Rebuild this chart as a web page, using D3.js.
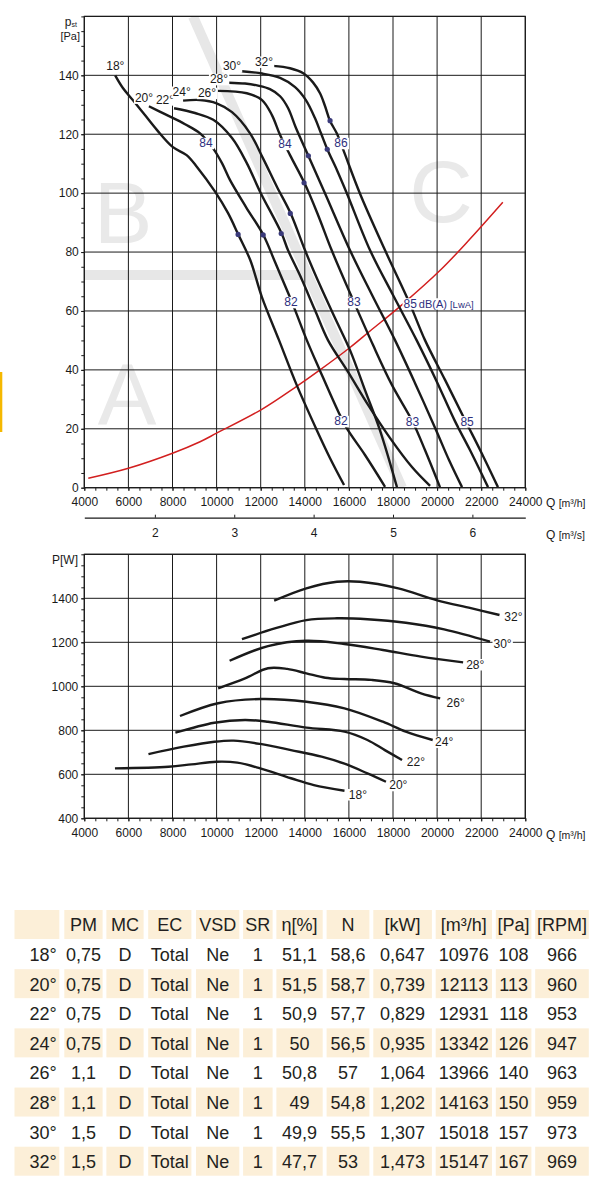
<!DOCTYPE html>
<html><head><meta charset="utf-8">
<script src="https://cdn.jsdelivr.net/npm/d3@7"></script>
<style>
body{margin:0;background:#fff;}
svg{display:block;font-family:"Liberation Sans",Arial,sans-serif;}
</style></head><body>
<svg id="c" width="602" height="1186"></svg>
<script>
// ---------- DATA ----------
const angles = ["18°","20°","22°","24°","26°","28°","30°","32°"];
// static pressure curves [Q m3/h, p Pa]
const pst18 = [[5400,140],[5750,135.7],[6200,131.6],[6750,126.5],[7300,121.4],[8020,115.6],[8640,112.9],[9110,108.9],[9930,100.5],[10520,93.2],[10980,86.0],[11530,77.2],[12050,64.8],[12830,50.1],[13630,34.9],[14540,19.6],[15140,10.1],[15780,0.9]];
const pst20 = [[6930,129.5],[7660,126.8],[8570,123.4],[9250,120.3],[9840,115.2],[10250,110.1],[10610,104.4],[11340,95.2],[12120,85.8],[12650,76.6],[13250,66.0],[13560,60.3],[14090,50.1],[14680,39.9],[15520,25.8],[15900,20.2],[16730,11.1],[17640,0.3]];
const pst22 = [[8070,128.8],[9020,127.2],[9850,124.9],[10700,118.7],[11370,110.2],[11970,100.5],[12950,86.3],[13240,80.6],[13780,72.1],[14460,60.3],[15050,50.1],[15960,39.3],[16870,28.1],[17860,16.9],[18860,7.0],[19680,0.6]];
const pst24 = [[8480,131.4],[9250,131.6],[10000,130.5],[10700,127.5],[11510,120.4],[12100,111.9],[12740,102.1],[13360,93.1],[14010,80.6],[14690,68.7],[15370,57.6],[16050,46.7],[16730,33.1],[17410,19.5],[18180,0.2]];
const pst26 = [[10060,134.7],[11370,133.9],[12060,131.6],[12510,126.5],[12880,119.7],[13330,112.9],[13980,103.5],[14600,92.6],[15220,80.6],[16230,63.0],[17090,48.5],[17950,34.9],[18890,22.4],[19450,12.8],[20130,0.2]];
const pst28 = [[10560,137.5],[11290,137.2],[11880,136.5],[12420,135.3],[12880,132.9],[13240,128.9],[13600,122.1],[14160,112.7],[14920,99.9],[16050,80.6],[17050,65.4],[18090,50.1],[19000,35.5],[19950,19.6],[20540,9.4],[21130,0.2]];
const pst30 = [[11140,141.4],[12060,140.6],[12880,139.1],[13560,136.0],[14050,131.6],[14460,125.5],[14730,120.4],[15020,114.9],[15460,107.8],[15910,99.9],[16960,80.6],[18000,65.4],[19070,50.1],[19950,36.6],[20810,22.6],[21490,12.8],[22310,0.2]];
const pst32 = [[12560,143.2],[13330,142.4],[13930,140.7],[14370,137.6],[14690,133.9],[14920,129.5],[15140,124.6],[15450,120.3],[15750,114.6],[16500,99.9],[17640,80.6],[18730,63.0],[19450,50.1],[20360,36.6],[21310,22.3],[21950,12.8],[22760,0.2]];
const systemCurve = [[4180,3.2],[6000,6.6],[8000,11.7],[9250,15.6],[10000,18.5],[12050,26.6],[13630,34.4],[14690,40.0],[16050,47.6],[16960,53.2],[18390,62.0],[20140,73.8],[21500,84.5],[22980,96.9]];
// operating points
const opQ = [10976,12113,12931,13342,13966,14163,15018,15147];
const opP = [86.0,85.8,86.3,93.1,103.5,112.7,114.9,124.6];
// noise labels along curves
const noiseText = ["84","84","86","82","83","85","82","83","85"];
const noiseQ = [9520,13100,15640,13370,16230,18770,15640,18880,21360];
const noiseP = [117.0,116.7,117.0,63.0,63.0,63.0,22.6,22.5,22.5];
// angle label anchors (top chart)
const angLabQ = [5406,6707,7660,8417,9564,10109,10698,12149];
const angLabP = [143.1,132.4,131.8,134.4,134.0,138.7,143.1,144.6];
// power curves [Q m3/h, P W]
const pw18 = [[5390,627],[7820,634.5],[8860,645],[9990,657],[10940,653],[11980,627],[13370,582],[14410,551],[15800,525.5]];
const pw20 = [[6910,692],[8510,725.5],[9900,748],[10770,753],[11980,738],[13370,710],[14760,680],[15800,648],[16840,604],[17680,566]];
const pw22 = [[8130,789],[9900,834.5],[11290,847],[12330,839],[14070,812],[15800,794],[16840,756],[17630,710],[18410,665]];
const pw24 = [[8340,865],[10070,923],[11980,942],[14070,930],[15800,900],[17540,839],[18580,794],[19800,756]];
const pw26 = [[10070,991],[11290,1036],[12330,1082],[13200,1079],[14070,1059],[14930,1039],[15800,1033],[17020,1029],[18060,1014],[19270,968],[20140,945]];
const pw28 = [[10590,1116],[12330,1183],[14070,1207],[15800,1192],[17540,1165],[19270,1135],[21180,1109]];
const pw30 = [[11150,1214],[12680,1264],[14070,1301],[15460,1309],[16840,1305],[18580,1289],[20320,1259],[22400,1203]];
const pw32 = [[12610,1389],[14070,1445],[15460,1475],[16500,1475],[18240,1445],[19970,1392],[21530,1355],[22830,1324]];
const pwLabQ = [16410,18240,19040,20320,20840,21730,22970,23460];
const pwLabP = [509,551,657,748,924,1100,1193,1316];
// axis ticks
const qTicks = [4000,6000,8000,10000,12000,14000,16000,18000,20000,22000,24000];
const pTicks = [0,20,40,60,80,100,120,140];
const qsTicks = [2,3,4,5,6];
const wTicks = [400,600,800,1000,1200,1400];
// zone letters (annotation)
const zoneText = ["B","A","C"];
const zoneQ = [5755,5940,20176];
const zoneP = [83.1,21.3,90.2];
// table
const tHead = ["","PM","MC","EC","VSD","SR","η[%]","N","[kW]","[m³/h]","[Pa]","[RPM]"];
const tAngle = ["18°","20°","22°","24°","26°","28°","30°","32°"];
const tPM = ["0,75","0,75","0,75","0,75","1,1","1,1","1,5","1,5"];
const tMC = ["D","D","D","D","D","D","D","D"];
const tEC = ["Total","Total","Total","Total","Total","Total","Total","Total"];
const tVSD = ["Ne","Ne","Ne","Ne","Ne","Ne","Ne","Ne"];
const tSR = ["1","1","1","1","1","1","1","1"];
const tEta = ["51,1","51,5","50,9","50","50,8","49","49,9","47,7"];
const tN = ["58,6","58,7","57,7","56,5","57","54,8","55,5","53"];
const tKW = ["0,647","0,739","0,829","0,935","1,064","1,202","1,307","1,473"];
const tQ = ["10976","12113","12931","13342","13966","14163","15018","15147"];
const tPa = ["108","113","118","126","140","150","157","167"];
const tRPM = ["966","960","953","947","963","959","973","969"];

// ---------- LAYOUT ----------
const svg = d3.select("#c");
const INK = "#1a1a1a", NAVY = "#2e2f7e";
const fmtInt = d3.format("d");
const x = d3.scaleLinear().domain([4000,24000]).range([84.3,525.3]);
const y1 = d3.scaleLinear().domain([0,160]).range([487.7,16.4]);
const y2 = d3.scaleLinear().domain([400,1600]).range([818.3,554.3]);
const qs = d3.scaleLinear().domain([4000/3600,24000/3600]).range([84.3,525.3]);

// yellow marker
svg.append("rect").attr("x",0).attr("y",372).attr("width",2.3).attr("height",60).attr("fill","#f5b800");

function styleAxis(g, size){
  g.select(".domain").remove();
  g.selectAll("line").attr("stroke",INK);
  g.selectAll("text").attr("font-size",size).attr("fill",INK).attr("font-family","Liberation Sans, Arial, sans-serif");
}

function bgLabel(g, px, py, txt, color, size){
  const t = g.append("text").attr("x",px).attr("y",py).attr("dy","0.35em")
    .attr("text-anchor","middle").attr("font-size",size).attr("fill",color).text(txt);
  const b = t.node().getBBox();
  g.insert("rect","text:last-child").attr("x",b.x-1).attr("y",b.y+1.5).attr("width",b.width+2).attr("height",b.height-2.5).attr("fill","#fff");
  return t;
}

// ---------- TOP CHART ----------
const topG = svg.append("g");
topG.append("clipPath").attr("id","clip1").append("rect")
  .attr("x",x(4000)).attr("y",y1(160)).attr("width",x(24000)-x(4000)).attr("height",y1(0)-y1(160));
const deco = topG.append("g").attr("clip-path","url(#clip1)");
deco.selectAll("text.zone").data(zoneText).join("text").attr("class","zone")
  .attr("x",(d,i)=>x(zoneQ[i])).attr("y",(d,i)=>y1(zoneP[i]))
  .attr("text-anchor","middle").attr("font-size",88).attr("fill","#e9e9e9").text(d=>d);
deco.append("line").attr("x1",x(8930)).attr("y1",y1(160)).attr("x2",x(18408)).attr("y2",y1(0))
  .attr("stroke","#e7e7e7").attr("stroke-width",10);
deco.append("line").attr("x1",x(4000)).attr("y1",y1(72.2)).attr("x2",x(14000)).attr("y2",y1(72.2))
  .attr("stroke","#e7e7e7").attr("stroke-width",10);

// grid
topG.selectAll("line.gv").data(qTicks).join("line").attr("class","gv")
  .attr("x1",d=>x(d)).attr("x2",d=>x(d)).attr("y1",y1(0)).attr("y2",y1(160)).attr("stroke",INK).attr("stroke-width",1);
topG.selectAll("line.gh").data(pTicks.concat([160])).join("line").attr("class","gh")
  .attr("y1",d=>y1(d)).attr("y2",d=>y1(d)).attr("x1",x(4000)).attr("x2",x(24000)).attr("stroke",INK).attr("stroke-width",1);

// axes
topG.append("g").attr("transform",`translate(0,${y1(0)})`)
  .call(d3.axisBottom(x).tickValues(d3.range(4000,24001,500)).tickSize(3).tickFormat(""))
  .call(g=>styleAxis(g,12));
topG.append("g").attr("transform",`translate(0,${y1(0)})`)
  .call(d3.axisBottom(x).tickValues(qTicks).tickSize(3).tickPadding(7).tickFormat(fmtInt))
  .call(g=>styleAxis(g,12));
topG.append("g").attr("transform",`translate(${x(4000)},0)`)
  .call(d3.axisLeft(y1).tickValues(d3.range(0,161,5)).tickSize(3).tickFormat(""))
  .call(g=>styleAxis(g,12));
topG.append("g").attr("transform",`translate(${x(4000)},0)`)
  .call(d3.axisLeft(y1).tickValues(pTicks).tickSize(3).tickPadding(2.5).tickFormat(fmtInt))
  .call(g=>styleAxis(g,12));
// second axis m3/s
const ax2 = topG.append("g").attr("transform","translate(0,517.7)")
  .call(d3.axisBottom(qs).tickValues(qsTicks).tickSizeInner(-3).tickSizeOuter(0).tickPadding(11).tickFormat(fmtInt));
ax2.select(".domain").attr("stroke",INK).attr("stroke-width",1.2);
ax2.selectAll("line").attr("stroke",INK);
ax2.selectAll("text").attr("font-size",12).attr("fill",INK).attr("font-family","Liberation Sans, Arial, sans-serif");

// frame
topG.append("rect").attr("x",x(4000)).attr("y",y1(160)).attr("width",x(24000)-x(4000)).attr("height",y1(0)-y1(160))
  .attr("fill","none").attr("stroke",INK).attr("stroke-width",1.2);

// axis titles
const pl = topG.append("text").attr("x",77).attr("y",25.5).attr("text-anchor","end").attr("font-size",12).attr("fill",INK);
pl.append("tspan").text("p");
pl.append("tspan").attr("font-size",7).attr("dy",1.2).text("st");
topG.append("text").attr("x",80).attr("y",39.5).attr("text-anchor","end").attr("font-size",11).attr("fill",INK).text("[Pa]");
function unitLabel(g, px, py, unit){
  const t = g.append("text").attr("x",px).attr("y",py).attr("dy","0.35em").attr("fill",INK);
  t.append("tspan").attr("font-size",12).text("Q ");
  t.append("tspan").attr("font-size",10.5).text(unit);
}
unitLabel(topG,546,501.7,"[m³/h]");
unitLabel(topG,546,533,"[m³/s]");

// system curve
const line1 = d3.line().x(d=>x(d[0])).y(d=>y1(d[1])).curve(d3.curveCatmullRom.alpha(0.5));
topG.append("path").datum(systemCurve).attr("d",line1).attr("fill","none").attr("stroke","#d21f1f").attr("stroke-width",1.5);

// fan curves
const pstCurves = [pst18,pst20,pst22,pst24,pst26,pst28,pst30,pst32];
topG.selectAll("path.pst").data(pstCurves).join("path").attr("class","pst")
  .attr("d",line1).attr("fill","none").attr("stroke",INK).attr("stroke-width",2.4).attr("stroke-linecap","butt");

// operating points
topG.selectAll("circle.op").data(opQ).join("circle").attr("class","op")
  .attr("cx",d=>x(d)).attr("cy",(d,i)=>y1(opP[i])).attr("r",2.6).attr("fill","#3a3a7a");

// noise labels
const nl = topG.append("g");
noiseText.forEach((t,i)=>{
  if(i===5){
    const px = x(noiseQ[i]), py = y1(noiseP[i]);
    const tx = nl.append("text").attr("x",px-6.5).attr("y",py).attr("dy","0.35em").attr("fill",NAVY);
    tx.append("tspan").attr("font-size",12).text(t);
    tx.append("tspan").attr("font-size",11).attr("dx",2).text("dB(A)");
    tx.append("tspan").attr("font-size",9.5).attr("dx",3).text("[LwA]");
    const b = tx.node().getBBox();
    nl.insert("rect","text:last-child").attr("x",b.x-1).attr("y",b.y+1.5).attr("width",b.width+2).attr("height",b.height-2.5).attr("fill","#fff");
  } else {
    bgLabel(nl, x(noiseQ[i]), y1(noiseP[i]), t, NAVY, 12);
  }
});
// angle labels
const al = topG.append("g");
angles.forEach((a,i)=>bgLabel(al, x(angLabQ[i]), y1(angLabP[i]), a, INK, 12));

// ---------- BOTTOM CHART ----------
const bot = svg.append("g");
bot.selectAll("line.gv").data(qTicks).join("line").attr("class","gv")
  .attr("x1",d=>x(d)).attr("x2",d=>x(d)).attr("y1",y2(400)).attr("y2",y2(1600)).attr("stroke",INK).attr("stroke-width",1);
bot.selectAll("line.gh").data(wTicks.concat([1600])).join("line").attr("class","gh")
  .attr("y1",d=>y2(d)).attr("y2",d=>y2(d)).attr("x1",x(4000)).attr("x2",x(24000)).attr("stroke",INK).attr("stroke-width",1);
bot.append("g").attr("transform",`translate(0,${y2(400)})`)
  .call(d3.axisBottom(x).tickValues(d3.range(4000,24001,500)).tickSize(3).tickFormat(""))
  .call(g=>styleAxis(g,12));
bot.append("g").attr("transform",`translate(0,${y2(400)})`)
  .call(d3.axisBottom(x).tickValues(qTicks).tickSize(3).tickPadding(7).tickFormat(fmtInt))
  .call(g=>styleAxis(g,12));
bot.append("g").attr("transform",`translate(${x(4000)},0)`)
  .call(d3.axisLeft(y2).tickValues(d3.range(400,1601,50)).tickSize(3).tickFormat(""))
  .call(g=>styleAxis(g,12));
bot.append("g").attr("transform",`translate(${x(4000)},0)`)
  .call(d3.axisLeft(y2).tickValues(wTicks).tickSize(3).tickPadding(3).tickFormat(fmtInt))
  .call(g=>styleAxis(g,12));
bot.append("rect").attr("x",x(4000)).attr("y",y2(1600)).attr("width",x(24000)-x(4000)).attr("height",y2(400)-y2(1600))
  .attr("fill","none").attr("stroke",INK).attr("stroke-width",1.2);
bot.append("text").attr("x",78).attr("y",560).attr("dy","0.35em").attr("text-anchor","end").attr("font-size",12).attr("fill",INK).text("P[W]");
unitLabel(bot,546,833,"[m³/h]");

const line2 = d3.line().x(d=>x(d[0])).y(d=>y2(d[1])).curve(d3.curveCatmullRom.alpha(0.5));
const pwCurves = [pw18,pw20,pw22,pw24,pw26,pw28,pw30,pw32];
bot.selectAll("path.pw").data(pwCurves).join("path").attr("class","pw")
  .attr("d",line2).attr("fill","none").attr("stroke",INK).attr("stroke-width",2.4);
const bl = bot.append("g");
angles.forEach((a,i)=>bgLabel(bl, x(pwLabQ[i]), y2(pwLabP[i]), a, INK, 12));

// ---------- TABLE ----------
const tbl = svg.append("g").attr("font-size",18).attr("fill","#231f20");
const tCols = [tAngle,tPM,tMC,tEC,tVSD,tSR,tEta,tN,tKW,tQ,tPa,tRPM];
const colEdges = [[14.5,59.3],[64.3,102.6],[106.4,143.6],[148.2,191.4],[196,239.3],[243.1,272.6],[276.4,322.7],[326.6,369.4],[373.3,431.9],[435.7,492],[495.8,531.4],[535.2,588.8]];
const rowTop = 910, rowH = 29.59;
const rows = [tHead].concat(tAngle.map((a,i)=>tCols.map(c=>c[i])));
rows.forEach((row,r)=>{
  const yTop = rowTop + r*rowH;
  if(r%2===0){
    colEdges.forEach(e=>tbl.append("rect").attr("x",e[0]).attr("y",yTop).attr("width",e[1]-e[0]).attr("height",rowH-0.6).attr("fill","#fcefd8"));
  }
  row.forEach((v,c)=>{
    const e = colEdges[c];
    const t = tbl.append("text").attr("y",yTop+rowH/2+6.6);
    if(c===0){ t.attr("x",e[1]-2.6).attr("text-anchor","end"); }
    else { t.attr("x",(e[0]+e[1])/2).attr("text-anchor","middle"); }
    t.text(v);
  });
});
</script>
</body></html>
